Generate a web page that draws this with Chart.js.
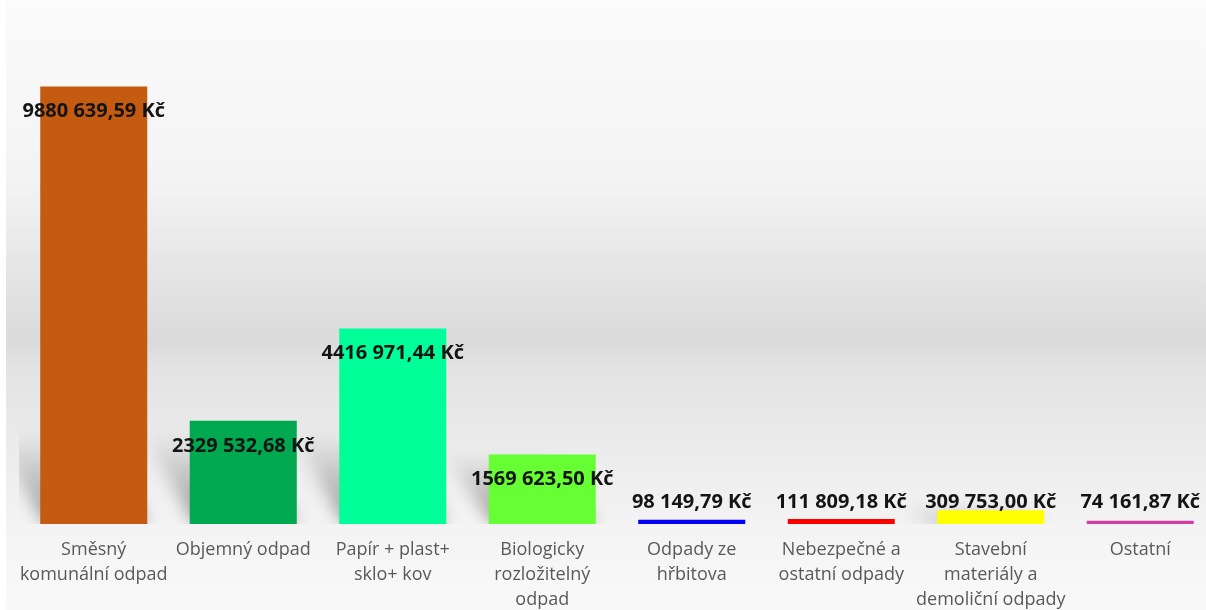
<!DOCTYPE html>
<html lang="cs">
<head>
<meta charset="utf-8">
<title>Náklady na odpady</title>
<script src="https://cdn.jsdelivr.net/npm/chart.js@4.4.1/dist/chart.umd.min.js"></script>
<style>
  html, body { margin: 0; padding: 0; background: #fff; overflow: hidden; }
  .wrap { position: relative; width: 1215px; height: 610px; }
</style>
</head>
<body>
<div class="wrap">
  <canvas id="odpadyChart"></canvas>
</div>
<script>
/* ================================
   Data
================================ */
const categories = [
  ["Směsný", "komunální odpad"],
  ["Objemný odpad"],
  ["Papír + plast+", "sklo+ kov"],
  ["Biologicky", "rozložitelný", "odpad"],
  ["Odpady ze", "hřbitova"],
  ["Nebezpečné a", "ostatní odpady"],
  ["Stavební", "materiály a", "demoliční odpady"],
  ["Ostatní"]
];

const costs = [9880639.59, 2329532.68, 4416971.44, 1569623.50, 98149.79, 111809.18, 309753.00, 74161.87];

const barColors = ["#C55A11", "#00A84F", "#00FF99", "#66FF33", "#0000FF", "#FF0000", "#FFFF00", "#D13FA6"];

const yMax = 11000000;

/* ================================
   Helpers
================================ */
// "9880 639,59 Kč" – only the last thousand group is separated
function formatKc(v) {
  const parts = v.toFixed(2).split(".");
  let whole = parts[0];
  if (whole.length > 3) {
    whole = whole.slice(0, -3) + " " + whole.slice(-3);
  }
  return whole + "," + parts[1] + " Kč";
}

/* ================================
   Plugins
================================ */
const backgroundPlugin = {
  id: "bgGradient",
  beforeDraw(chart) {
    const { ctx, width, height } = chart;
    ctx.save();
    ctx.fillStyle = "#ffffff";
    ctx.fillRect(0, 0, width, height);
    const g = ctx.createLinearGradient(0, 0, 0, height);
    g.addColorStop(0, "#fbfbfb");
    g.addColorStop(0.3, "#f3f3f3");
    g.addColorStop(0.56, "#dadada");
    g.addColorStop(0.6, "#e3e3e3");
    g.addColorStop(0.87, "#f4f4f4");
    g.addColorStop(1, "#f9f9f9");
    ctx.fillStyle = g;
    ctx.fillRect(6, 0, width - 6, height);
    ctx.restore();
  }
};

const shadowPlugin = {
  id: "barShadows",
  beforeDatasetsDraw(chart) {
    const { ctx, chartArea } = chart;
    const meta = chart.getDatasetMeta(0);
    ctx.save();
    ctx.beginPath();
    ctx.rect(chartArea.left, chartArea.top, chartArea.right - chartArea.left, chartArea.bottom - chartArea.top);
    ctx.clip();
    ctx.filter = "blur(8px)";
    meta.data.forEach(bar => {
      const h = Math.min(bar.base - bar.y, 90);
      if (h < 8) return;
      const half = bar.width / 2;
      const skew = 45;
      const g = ctx.createLinearGradient(0, bar.base, 0, bar.base - h);
      g.addColorStop(0, "rgba(0,0,0,0.38)");
      g.addColorStop(1, "rgba(0,0,0,0)");
      ctx.fillStyle = g;
      ctx.beginPath();
      ctx.moveTo(bar.x - half + 4, bar.base);
      ctx.lineTo(bar.x + half, bar.base);
      ctx.lineTo(bar.x + half - skew, bar.base - h);
      ctx.lineTo(bar.x - half - skew, bar.base - h);
      ctx.closePath();
      ctx.fill();
    });
    ctx.restore();
  }
};

const valueLabelPlugin = {
  id: "valueLabels",
  afterDatasetsDraw(chart) {
    const { ctx } = chart;
    const meta = chart.getDatasetMeta(0);
    ctx.save();
    ctx.font = "bold 20px 'Open Sans', sans-serif";
    ctx.fillStyle = "#141414";
    ctx.textAlign = "center";
    ctx.textBaseline = "middle";
    meta.data.forEach((bar, i) => {
      const y = Math.min(bar.y + 25, bar.base - 22);
      ctx.fillText(formatKc(costs[i]), bar.x, y);
    });
    ctx.restore();
  }
};

/* ================================
   Render Chart
================================ */
function renderChart() {
  const ctx = document.getElementById("odpadyChart");

  new Chart(ctx, {
    type: "bar",
    data: {
      labels: categories,
      datasets: [
        {
          label: "Náklady (Kč)",
          data: costs,
          backgroundColor: barColors,
          borderWidth: 0,
          categoryPercentage: 1,
          barPercentage: 0.716
        }
      ]
    },
    options: {
      responsive: true,
      maintainAspectRatio: false,
      animation: false,
      layout: {
        padding: { top: 37, left: 19, right: 0, bottom: 0 }
      },
      plugins: {
        legend: { display: false },
        tooltip: { enabled: false }
      },
      scales: {
        x: {
          grid: { display: false, drawTicks: false },
          border: { display: false },
          afterFit(scale) {
            scale.height = 86;
          },
          ticks: {
            color: "#595959",
            font: { family: "'Open Sans', sans-serif", size: 18, lineHeight: 1.39 },
            padding: 13,
            autoSkip: false,
            maxRotation: 0,
            minRotation: 0
          }
        },
        y: {
          display: false,
          min: 0,
          max: yMax
        }
      }
    },
    plugins: [backgroundPlugin, shadowPlugin, valueLabelPlugin]
  });
}

document.addEventListener("DOMContentLoaded", renderChart);
</script>
</body>
</html>
